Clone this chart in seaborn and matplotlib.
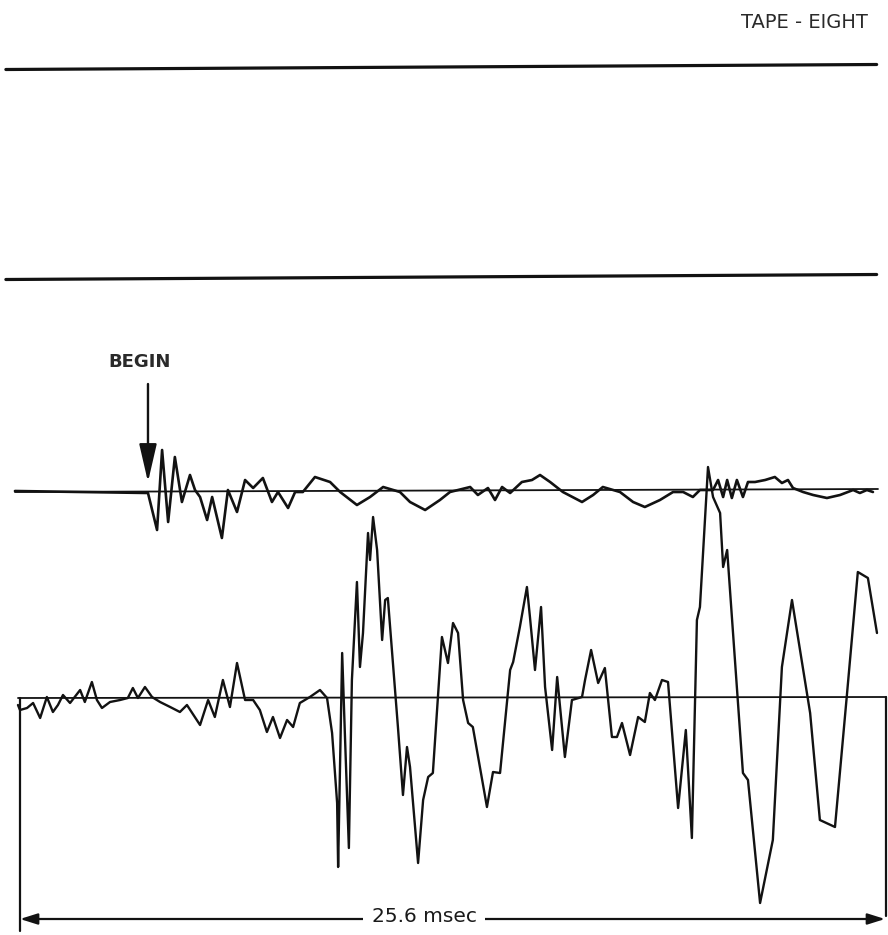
import numpy as np
import pandas as pd
import matplotlib
matplotlib.use("Agg")
import matplotlib.pyplot as plt
import seaborn as sns

# ---------------- data (time in msec, amplitude in trace units, + = up) ----------------
title_text = "TAPE - EIGHT"
begin_text = "BEGIN"
span_label = "25.6 msec"
record_length_ms = 25.6

# channels 1 and 2: flat, no signal
flat_time = [-0.42, 25.50]
flat_amp = [0, 0]

# channel 3 (upper active trace)
upper_time = [-0.15, 3.81, 4.08, 4.23, 4.41, 4.61, 4.82, 5.06, 5.21, 5.36, 5.57, 5.72,
              6.01, 6.19, 6.46, 6.70, 6.94, 7.23, 7.50, 7.68, 7.98, 8.19, 8.42, 8.78,
              9.23, 9.53, 10.03, 10.42, 10.81, 11.31, 11.61, 12.06, 12.50, 12.80, 13.40,
              13.63, 13.93, 14.14, 14.35, 14.59, 14.94, 15.24, 15.48, 15.78, 16.16, 16.73,
              17.06, 17.35, 17.86, 18.25, 18.60, 19.05, 19.44, 19.74, 20.03, 20.24, 20.63,
              20.78, 20.93, 21.05, 21.19, 21.34, 21.52, 21.67, 21.88, 22.18, 22.47, 22.68,
              22.86, 23.01, 23.31, 23.61, 24.02, 24.41, 24.80, 25.00, 25.21, 25.39]
upper_amp = [0, -2, -39, 41, -31, 34, -11, 16, 1, -6, -29, -6,
             -47, 1, -21, 11, 3, 13, -11, -1, -17, -1, -1, 14,
             9, -1, -14, -6, 4, -1, -11, -19, -9, -1, 4,
             -4, 3, -9, 4, -2, 9, 11, 16, 9, -1, -11,
             -4, 4, -1, -11, -16, -9, -1, -1, -6, 1, 1,
             11, -6, 11, -7, 11, -6, 9, 9, 11, 14, 8,
             11, 3, -1, -4, -7, -4, 1, -2, 1, -1]

# channel 4 (lower active trace)
lower_time = [-0.06, 0.00, 0.21, 0.39, 0.60, 0.80, 0.98, 1.13, 1.28, 1.49, 1.79, 1.93,
              2.14, 2.29, 2.44, 2.68, 2.98, 3.21, 3.36, 3.51, 3.72, 3.93, 4.17, 4.47,
              4.76, 4.97, 5.36, 5.60, 5.80, 6.04, 6.25, 6.46, 6.70, 6.94, 7.14, 7.35,
              7.53, 7.74, 7.95, 8.13, 8.33, 8.63, 8.93, 9.14, 9.29, 9.44, 9.47, 9.59,
              9.67, 9.79, 9.88, 10.03, 10.12, 10.21, 10.36, 10.42, 10.51, 10.63, 10.78,
              10.87, 10.95, 11.10, 11.25, 11.40, 11.52, 11.61, 11.85, 12.00, 12.15, 12.29,
              12.56, 12.74, 12.89, 13.04, 13.19, 13.34, 13.48, 13.90, 14.08, 14.29, 14.59,
              14.68, 14.88, 15.09, 15.18, 15.33, 15.51, 15.63, 15.84, 15.99, 16.22, 16.43,
              16.73, 16.82, 17.00, 17.21, 17.41, 17.62, 17.77, 17.92, 18.16, 18.40, 18.60,
              18.75, 18.90, 19.11, 19.29, 19.59, 19.82, 20.00, 20.15, 20.24, 20.48, 20.63,
              20.84, 20.93, 21.05, 21.52, 21.67, 22.03, 22.41, 22.68, 22.98, 23.52, 23.81,
              24.26, 24.62, 24.94, 25.24, 25.51]
lower_amp = [-7, -12, -10, -5, -20, 1, -14, -7, 3, -5, 8, -4,
             16, -2, -10, -4, -2, 0, 10, 0, 11, 1, -4, -9,
             -14, -7, -27, -2, -19, 18, -9, 35, -2, -2, -12, -34,
             -19, -40, -22, -29, -5, 1, 8, 0, -35, -105, -169, 45,
             -35, -150, 18, 116, 31, 65, 165, 138, 181, 148, 58,
             98, 100, 35, -29, -97, -49, -69, -165, -102, -79, -75,
             61, 35, 75, 65, -2, -25, -29, -109, -74, -75, 28,
             36, 71, 111, 81, 28, 91, 11, -52, 21, -59, -2,
             1, 18, 48, 15, 30, -39, -39, -25, -57, -19, -24,
             5, -2, 18, 16, -110, -32, -140, 78, 91, 231, 201,
             185, 131, 148, -75, -82, -205, -142, 31, 98, -15, -122,
             -129, 5, 126, 120, 65]

# ---------------- layout ----------------
INK = "#121212"
sns.set_theme(style="white")
plt.rcParams["font.family"] = ["DejaVu Sans"]

fig = plt.figure(figsize=(8.88, 9.35), dpi=100)
ax = fig.add_axes([0, 0, 1, 1])
ax.set_xlim(-0.595, 25.838)
ax.set_ylim(935, 0)
ax.axis("off")


def base_line(t, y_left, y_right, t0, t1):
    t = np.asarray(t, dtype=float)
    return y_left + (y_right - y_left) * (t - t0) / (t1 - t0)


# flat channels 1 and 2
for yl, yr in [(69.5, 64.5), (279.5, 274.5)]:
    df = pd.DataFrame({"t": flat_time,
                       "y": base_line(flat_time, yl, yr, flat_time[0], flat_time[-1]) - np.array(flat_amp)})
    sns.lineplot(data=df, x="t", y="y", ax=ax, color=INK, lw=2.3, sort=False, estimator=None)

# reference lines of active channels
ax.plot([-0.15, 25.54], [492, 489], color=INK, lw=1.3)
ax.plot([-0.06, 25.78], [698, 697], color=INK, lw=1.3)

UPPER_BASE = 491
LOWER_BASE = 698
df_up = pd.DataFrame({"t": upper_time, "y": UPPER_BASE - np.array(upper_amp)})
sns.lineplot(data=df_up, x="t", y="y", ax=ax, color=INK, lw=1.9, sort=False, estimator=None)
df_lo = pd.DataFrame({"t": lower_time, "y": LOWER_BASE - np.array(lower_amp)})
sns.lineplot(data=df_lo, x="t", y="y", ax=ax, color=INK, lw=1.7, sort=False, estimator=None)

# frame verticals of the lower record
ax.plot([0.0, 0.0], [698, 931], color=INK, lw=1.6)
ax.plot([25.78, 25.78], [697, 916], color=INK, lw=1.6)

# 25.6 msec span arrow
ax.annotate("", xy=(0.0, 919), xytext=(12.03, 919),
            arrowprops=dict(arrowstyle="-|>,head_length=0.7,head_width=0.22", color=INK,
                            lw=1.6, mutation_scale=15, shrinkA=0, shrinkB=0))
ax.annotate("", xy=(25.75, 919), xytext=(12.03, 919),
            arrowprops=dict(arrowstyle="-|>,head_length=0.7,head_width=0.22", color=INK,
                            lw=1.6, mutation_scale=15, shrinkA=0, shrinkB=0))
ax.text(12.03, 916, span_label, ha="center", va="center", fontsize=14.5, color="#1a1a1a",
        bbox=dict(facecolor="white", edgecolor="none", pad=6))

# BEGIN marker
ax.text(3.57, 362, begin_text, ha="center", va="center", fontsize=13, fontweight="bold",
        color="#2a2a2a")
ax.annotate("", xy=(3.81, 482), xytext=(3.81, 384),
            arrowprops=dict(arrowstyle="-|>,head_length=1.3,head_width=0.3", color=INK,
                            lw=1.7, mutation_scale=18, shrinkA=0, shrinkB=0))

# title
ax.text(25.25, 23, title_text, ha="right", va="center", fontsize=14, fontweight="medium",
        color="#2a2a2a")

fig.savefig("out.png", dpi=100, facecolor="white")
